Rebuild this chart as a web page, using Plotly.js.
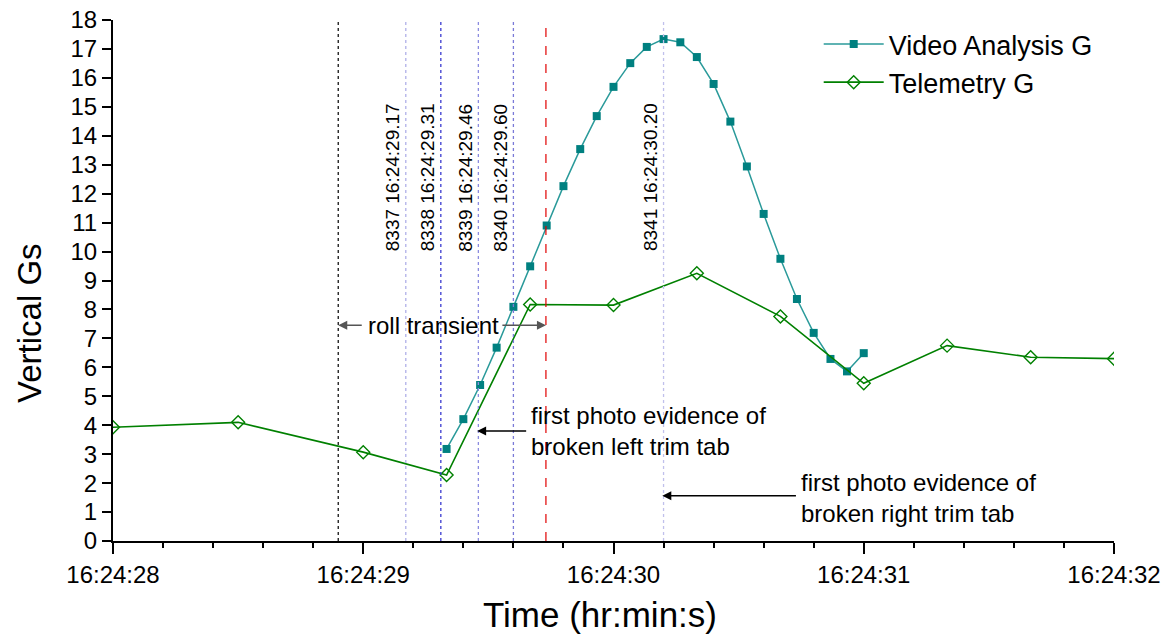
<!DOCTYPE html>
<html>
<head>
<meta charset="utf-8">
<script src="https://cdn.plot.ly/plotly-3.0.1.min.js"></script>
<style>html,body{margin:0;padding:0;background:#fff;}#chart{width:1166px;height:636px;}</style>
</head>
<body>
<div id="chart"></div>
<script>
// Time in seconds after 16:24:00
const videoT = [29.333, 29.400, 29.467, 29.533, 29.600, 29.667, 29.733, 29.800, 29.867, 29.933,
                30.000, 30.067, 30.133, 30.200, 30.267, 30.333, 30.400, 30.467, 30.533, 30.600,
                30.667, 30.733, 30.800, 30.867, 30.933, 31.000];
const videoG = [3.18, 4.21, 5.39, 6.68, 8.09, 9.49, 10.90, 12.26, 13.54, 14.68,
                15.69, 16.51, 17.07, 17.34, 17.23, 16.72, 15.79, 14.49, 12.94, 11.30,
                9.75, 8.36, 7.19, 6.29, 5.86, 6.49];
const teleT = [28.0, 28.5, 29.0, 29.333, 29.667, 30.0, 30.333, 30.667, 31.0, 31.333, 31.667, 32.0];
const teleG = [3.93, 4.10, 3.07, 2.28, 8.17, 8.15, 9.25, 7.76, 5.45, 6.75, 6.35, 6.30];

const tickVals = [28, 29, 30, 31, 32];
const tickText = ["16:24:28", "16:24:29", "16:24:30", "16:24:31", "16:24:32"];

// Frame markers
const frameT = [29.17, 29.31, 29.46, 29.60, 30.20];
const frameLabels = ["8337 16:24:29.17", "8338 16:24:29.31", "8339 16:24:29.46", "8340 16:24:29.60", "8341 16:24:30.20"];
const frameColors = ["#b0b0e8", "#3a3ad0", "#8c8ce0", "#7a7ad8", "#c0c0ec"];
const rollStart = 28.90;
const rollEnd = 29.73;

const FONT = "Liberation Sans, Arial, sans-serif";

const traces = [
  {
    x: videoT, y: videoG, name: "Video Analysis G", type: "scatter", mode: "lines+markers",
    line: {color: "#2a9a9a", width: 1.5},
    marker: {symbol: "square", size: 8, color: "#008080", line: {color: "#008080", width: 0}}
  },
  {
    x: teleT, y: teleG, name: "Telemetry G", type: "scatter", mode: "lines+markers",
    line: {color: "#008000", width: 1.6},
    marker: {symbol: "diamond-open", size: 10, color: "#008000", line: {color: "#008000", width: 1.4}}
  }
];

const shapes = [];
shapes.push({type: "line", xref: "x", yref: "paper", x0: rollStart, x1: rollStart, y0: 0, y1: 1,
             line: {color: "#000000", width: 1.2, dash: "dot"}});
frameT.forEach((t, i) => {
  shapes.push({type: "line", xref: "x", yref: "paper", x0: t, x1: t, y0: 0, y1: 1,
               line: {color: frameColors[i], width: 1.3, dash: "dot"}});
});
shapes.push({type: "line", xref: "x", yref: "paper", x0: rollEnd, x1: rollEnd, y0: 0, y1: 1,
             line: {color: "#e00000", width: 1.2, dash: "dash"}});

const annotations = [];
frameT.forEach((t, i) => {
  annotations.push({x: t, y: 12.56, xref: "x", yref: "y", text: frameLabels[i], showarrow: false,
                    textangle: -90, xshift: -13, font: {family: FONT, size: 19, color: "#000"}});
});
// roll transient
annotations.push({x: 29.28, y: 7.45, xref: "x", yref: "y", text: "roll transient", showarrow: false,
                  font: {family: FONT, size: 24, color: "#000"}});
annotations.push({x: rollStart, y: 7.45, ax: 29.0, ay: 7.45, axref: "x", ayref: "y", xref: "x", yref: "y",
                  text: "", showarrow: true, arrowhead: 2, arrowsize: 1.2, arrowwidth: 1.5, arrowcolor: "#555"});
annotations.push({x: rollEnd, y: 7.45, ax: 29.55, ay: 7.45, axref: "x", ayref: "y", xref: "x", yref: "y",
                  text: "", showarrow: true, arrowhead: 2, arrowsize: 1.2, arrowwidth: 1.5, arrowcolor: "#555"});
// left trim tab
annotations.push({x: 29.663, y: 3.8, xref: "x", yref: "y", xanchor: "left", yanchor: "middle", align: "left",
                  text: "first photo evidence of<br>broken left trim tab", showarrow: false,
                  font: {family: FONT, size: 24, color: "#000"}});
annotations.push({x: 29.455, y: 3.8, ax: 29.657, ay: 3.8, axref: "x", ayref: "y", xref: "x", yref: "y",
                  text: "", showarrow: true, arrowhead: 2, arrowsize: 1.2, arrowwidth: 1.5, arrowcolor: "#000"});
// right trim tab
annotations.push({x: 30.742, y: 1.5, xref: "x", yref: "y", xanchor: "left", yanchor: "middle", align: "left",
                  text: "first photo evidence of<br>broken right trim tab", showarrow: false,
                  font: {family: FONT, size: 24, color: "#000"}});
annotations.push({x: 30.195, y: 1.56, ax: 30.735, ay: 1.56, axref: "x", ayref: "y", xref: "x", yref: "y",
                  text: "", showarrow: true, arrowhead: 2, arrowsize: 1.2, arrowwidth: 1.5, arrowcolor: "#000"});
// axis titles, placed in pixels as in the reference
annotations.push({x: 30, y: 323, xref: "paper", yref: "paper", xanchor: "center", yanchor: "middle",
                  text: "Vertical Gs", showarrow: false,
                  textangle: -90, font: {family: FONT, size: 33, color: "#000"}, _px: true});
annotations.push({x: 600, y: 614, xref: "paper", yref: "paper", xanchor: "center", yanchor: "middle",
                  text: "Time (hr:min:s)", showarrow: false,
                  font: {family: FONT, size: 35, color: "#000"}, _px: true});

const layout = {
  width: 1166, height: 636,
  margin: {l: 113, r: 52, t: 20, b: 95},
  paper_bgcolor: "#ffffff", plot_bgcolor: "#ffffff",
  font: {family: FONT, color: "#000"},
  showlegend: true,
  legend: {x: 0.705, y: 1.0, xanchor: "left", yanchor: "top", bgcolor: "rgba(0,0,0,0)", itemwidth: 60,
           font: {family: FONT, size: 27, color: "#000"}, tracegroupgap: 0},
  xaxis: {
    range: [28, 32], showgrid: false, zeroline: false,
    showline: true, linecolor: "#000", linewidth: 2,
    ticks: "outside", ticklen: 11, tickwidth: 2, tickcolor: "#000",
    tickmode: "array", tickvals: tickVals, ticktext: tickText,
    tickfont: {family: FONT, size: 24, color: "#000"},
    minor: {tickmode: "linear", tick0: 28, dtick: 0.2, ticks: "outside", ticklen: 5, tickwidth: 2, tickcolor: "#000", showgrid: false}
  },
  yaxis: {
    range: [0, 18], showgrid: false, zeroline: false,
    showline: true, linecolor: "#000", linewidth: 2,
    ticks: "outside", ticklen: 9, tickwidth: 2, tickcolor: "#000",
    tickmode: "linear", tick0: 0, dtick: 1,
    tickfont: {family: FONT, size: 24, color: "#000"}
  },
  shapes: shapes,
  annotations: annotations
};

// convert pixel-positioned titles to paper coords
const plotL = 113, plotW = 1166 - 113 - 52, plotT = 20, plotH = 636 - 20 - 95;
layout.annotations.forEach(a => {
  if (a._px) {
    a.x = (a.x - plotL) / plotW;
    a.y = (plotT + plotH - a.y) / plotH;
    delete a._px;
  }
});

Plotly.newPlot("chart", traces, layout, {displayModeBar: false, staticPlot: true});
</script>
</body>
</html>
